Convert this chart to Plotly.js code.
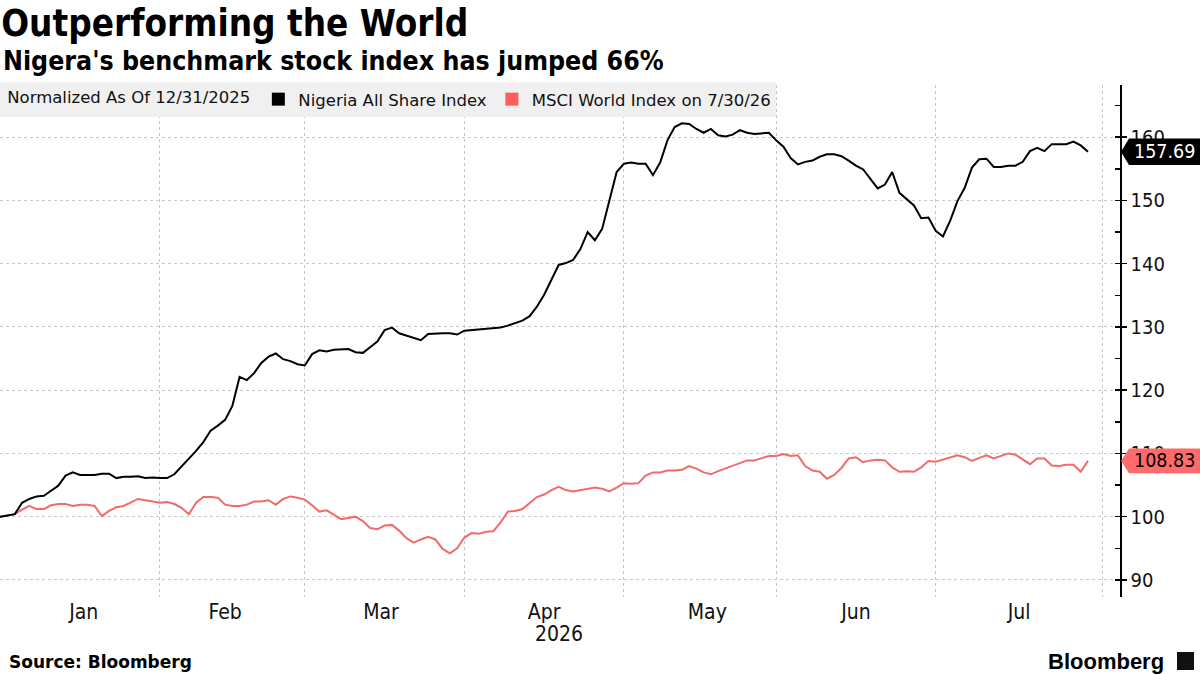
<!DOCTYPE html>
<html>
<head>
<meta charset="utf-8">
<script src="https://cdn.plot.ly/plotly-3.0.1.min.js"></script>
<style>html,body{margin:0;padding:0;background:#fff;}#chart{width:1200px;height:675px;}</style>
</head>
<body>
<div id="chart"></div>
<script>
// ---- Data (normalized to 100 on 12/31/2025), one value per weekday from 2025-12-31 ----
const startDate = '2025-12-31';
const nigeriaName = 'Nigeria All Share Index';
const msciName = 'MSCI World Index on 7/30/26';
const legendTitle = 'Normalized As Of 12/31/2025';

const nigeria = [
  100.0, 100.0, 100.2, 100.4, 102.2, 102.8, 103.2, 103.3, 104.1, 104.9,
  106.5, 107.0, 106.6, 106.6, 106.6, 106.8, 106.8, 106.1, 106.3, 106.3,
  106.4, 106.1, 106.2, 106.1, 106.1, 106.7, 107.9, 109.2, 110.4, 111.8,
  113.6, 114.4, 115.3, 117.5, 122.1, 121.6, 122.7, 124.3, 125.3, 125.8,
  124.9, 124.6, 124.1, 123.9, 125.7, 126.3, 126.1, 126.4, 126.4, 126.5,
  126.0, 125.9, 126.8, 127.7, 129.5, 129.9, 129.0, 128.6, 128.2, 127.9,
  128.9, 129.0, 129.0, 129.0, 128.8, 129.4, 129.5, 129.6, 129.7, 129.8,
  129.9, 130.2, 130.6, 131.0, 131.7, 133.2, 135.1, 137.4, 139.8, 140.1,
  140.6, 142.3, 145.0, 143.7, 145.5, 150.0, 154.5, 155.8, 156.0, 155.8,
  155.8, 154.0, 156.0, 159.5, 161.6, 162.2, 162.1, 161.3, 160.7, 161.3,
  160.3, 160.1, 160.4, 161.1, 160.7, 160.5, 160.6, 160.7, 159.5, 158.5,
  156.7, 155.7, 156.1, 156.3, 156.9, 157.3, 157.3, 157.0, 156.3, 155.5,
  154.9, 153.4, 151.9, 152.5, 154.5, 151.2, 150.2, 149.2, 147.2, 147.3,
  145.2, 144.3, 146.8, 149.9, 152.0, 155.2, 156.5, 156.6, 155.3, 155.3,
  155.5, 155.5, 156.1, 157.8, 158.3, 157.8, 158.9, 158.9, 158.9, 159.3,
  158.7, 157.69
];

const msci = [
  100.0, 100.0, 100.2, 100.4, 101.1, 101.7, 101.2, 101.2, 101.8, 102.0,
  102.0, 101.7, 101.9, 101.9, 101.7, 100.1, 100.9, 101.5, 101.7, 102.3,
  102.8, 102.6, 102.4, 102.2, 102.3, 102.0, 101.4, 100.4, 102.2, 103.1,
  103.1, 103.0, 101.9, 101.7, 101.7, 101.9, 102.4, 102.4, 102.6, 101.9,
  102.8, 103.2, 103.0, 102.7, 101.8, 100.8, 101.0, 100.3, 99.6, 99.8,
  100.0, 99.3, 98.2, 98.0, 98.6, 98.7, 97.8, 96.6, 95.9, 96.4,
  96.8, 96.4, 94.9, 94.2, 95.0, 96.7, 97.4, 97.3, 97.6, 97.7,
  99.1, 100.8, 100.9, 101.2, 102.2, 103.1, 103.5, 104.2, 104.7, 104.2,
  104.0, 104.2, 104.3, 104.6, 104.4, 104.0, 104.6, 105.3, 105.2, 105.3,
  106.5, 107.0, 107.0, 107.3, 107.3, 107.4, 108.0, 107.6, 107.0, 106.7,
  107.2, 107.6, 108.0, 108.5, 108.9, 108.9, 109.2, 109.6, 109.6, 109.9,
  109.6, 109.7, 108.0, 107.3, 107.1, 106.0, 106.6, 107.7, 109.2, 109.4,
  108.6, 108.9, 109.0, 108.9, 107.8, 107.1, 107.2, 107.1, 107.8, 108.8,
  108.7, 109.0, 109.3, 109.7, 109.4, 108.8, 109.3, 109.7, 109.2, 109.6,
  110.0, 109.8, 109.0, 108.3, 109.2, 109.2, 108.1, 108.0, 108.2, 108.2,
  107.1, 108.83
];

const yTicks = [90, 100, 110, 120, 130, 140, 150, 160];

// ---- Build weekday dates ----
function weekdayDates(start, n) {
  const out = [];
  const d = new Date(start + 'T00:00:00Z');
  while (out.length < n) {
    const wd = d.getUTCDay();
    if (wd !== 0 && wd !== 6) out.push(d.toISOString().slice(0, 10));
    d.setUTCDate(d.getUTCDate() + 1);
  }
  return out;
}
const dates = weekdayDates(startDate, nigeria.length);

const BLACK = '#000000';
const RED = '#f26b6b';
const RED_BOX = '#ff6b6b';
const COND = "'DejaVu Sans Condensed', 'Liberation Sans Narrow', 'DejaVu Sans', sans-serif";
const REG = "'DejaVu Sans', 'Noto Sans', sans-serif";

const traces = [
  {x: dates, y: msci, type: 'scatter', mode: 'lines', name: msciName, line: {color: RED, width: 2}, showlegend: false, legendgroup: 'm'},
  {x: dates, y: nigeria, type: 'scatter', mode: 'lines', name: nigeriaName, line: {color: BLACK, width: 2}, showlegend: false, legendgroup: 'n'},
  {x: [null], y: [null], type: 'scatter', mode: 'markers', name: nigeriaName, marker: {symbol: 'square', size: 13, color: BLACK}, legendgroup: 'n'},
  {x: [null], y: [null], type: 'scatter', mode: 'markers', name: msciName, marker: {symbol: 'square', size: 13, color: '#ff5c5c'}, legendgroup: 'm'}
];

const lastN = nigeria[nigeria.length - 1];
const lastM = msci[msci.length - 1];
const W = 1120; // plot width px
const px = v => v / W;
function tagPath(val, halfData) {
  const tip = px(1121), body = px(1129), right = px(1201);
  return `M ${tip},${val} L ${body},${val + halfData} L ${right},${val + halfData} L ${right},${val - halfData} L ${body},${val - halfData} Z`;
}

const layout = {
  width: 1200, height: 675,
  margin: {l: 0, r: 80, t: 85, b: 78},
  paper_bgcolor: '#ffffff', plot_bgcolor: '#ffffff',
  font: {family: REG, color: '#000', size: 17},
  title: {
    text: '<b>Outperforming the World</b>',
    font: {family: COND, size: 36.5, color: '#000'},
    x: 0.001, xref: 'container', xanchor: 'left',
    y: 1 - 23 / 675, yref: 'container', yanchor: 'middle'
  },
  showlegend: true,
  legend: {
    orientation: 'h', x: 0, xanchor: 'left', y: 1.006, yanchor: 'top',
    bgcolor: '#f0f0f0', borderwidth: 0,
    font: {family: REG, size: 16.5, color: '#111'},
    title: {text: '&nbsp;' + legendTitle, side: 'left', font: {family: REG, size: 16.5, color: '#111'}},
    itemclick: false, itemdoubleclick: false, itemwidth: 30,
    traceorder: 'normal'
  },
  xaxis: {
    type: 'date',
    range: ['2025-12-31 23:00', '2026-08-05 10:00'],
    rangebreaks: [{bounds: ['sat', 'mon']}],
    dtick: 'M1', tick0: '2026-01-01',
    tickformat: '%b', ticklabelmode: 'period',
    showgrid: true, gridcolor: '#c8c8c8', griddash: 'dot', gridwidth: 1,
    showline: false, zeroline: false, ticks: '',
    tickfont: {family: COND, size: 21, color: '#111'},
    fixedrange: true
  },
  yaxis: {
    side: 'right',
    range: [87.3, 168.25],
    tickvals: yTicks,
    showgrid: true, gridcolor: '#c8c8c8', griddash: 'dot', gridwidth: 1,
    showline: true, linecolor: '#000', linewidth: 1.5,
    ticks: 'outside', ticklen: 5, tickcolor: '#000', tickwidth: 1.5,
    minor: {dtick: 5, tick0: 0, ticks: 'inside', ticklen: 5, tickcolor: '#000', tickwidth: 1.5, showgrid: false},
    zeroline: false,
    tickfont: {family: COND, size: 20, color: '#111'},
    fixedrange: true
  },
  shapes: [
    {type: 'path', xref: 'paper', yref: 'y', path: tagPath(lastN, 2.1), fillcolor: '#000', line: {width: 0}, layer: 'above'},
    {type: 'path', xref: 'paper', yref: 'y', path: tagPath(lastM, 1.95), fillcolor: RED_BOX, line: {width: 0}, layer: 'above'},
    {type: 'rect', xref: 'paper', yref: 'paper', x0: px(1177), x1: px(1194), y0: (597 - 670) / 512, y1: (597 - 652) / 512, fillcolor: '#111', line: {width: 0}}
  ],
  annotations: [
    {text: "<b>Nigera's benchmark stock index has jumped 66%</b>", xref: 'paper', yref: 'paper',
     x: px(1), y: (597 - 60) / 512, xanchor: 'left', yanchor: 'middle', showarrow: false,
     font: {family: COND, size: 26.5, color: '#000'}},
    {text: lastN.toFixed(2), xref: 'paper', yref: 'y', x: px(1164), y: lastN, xanchor: 'center', yanchor: 'middle',
     showarrow: false, font: {family: COND, size: 19.5, color: '#fff'}},
    {text: lastM.toFixed(2), xref: 'paper', yref: 'y', x: px(1164), y: lastM, xanchor: 'center', yanchor: 'middle',
     showarrow: false, font: {family: COND, size: 19.5, color: '#000'}},
    {text: '2026', xref: 'paper', yref: 'paper', x: px(559), y: (597 - 634) / 512, xanchor: 'center', yanchor: 'middle',
     showarrow: false, font: {family: COND, size: 21, color: '#111'}},
    {text: '<b>Source: Bloomberg</b>', xref: 'paper', yref: 'paper', x: px(7), y: (597 - 662) / 512, xanchor: 'left', yanchor: 'middle',
     showarrow: false, font: {family: REG, size: 17, color: '#000'}},
    {text: '<b>Bloomberg</b>', xref: 'paper', yref: 'paper', x: px(1166), y: (597 - 661) / 512, xanchor: 'right', yanchor: 'middle',
     showarrow: false, font: {family: "'Liberation Sans', 'Roboto', sans-serif", size: 22, color: '#000'}}
  ]
};

Plotly.newPlot('chart', traces, layout, {displayModeBar: false, staticPlot: true});
</script>
</body>
</html>
